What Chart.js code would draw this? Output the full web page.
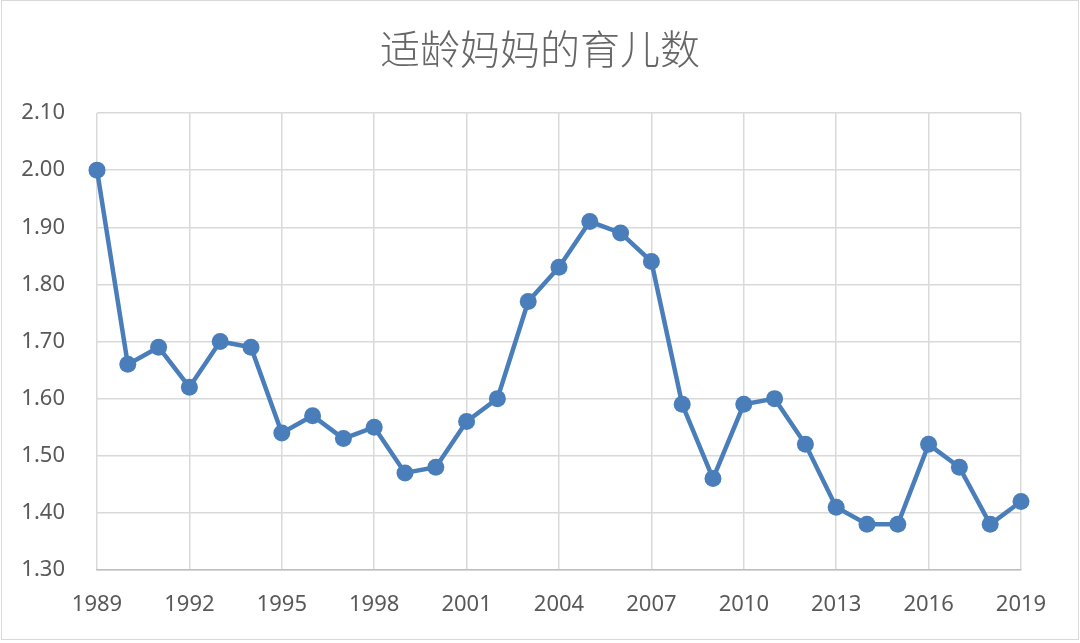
<!DOCTYPE html>
<html>
<head>
<meta charset="utf-8">
<script src="https://cdn.jsdelivr.net/npm/chart.js@4/dist/chart.umd.min.js"></script>
<style>
  html, body { margin: 0; padding: 0; background: #fff; }
  #wrap { position: relative; width: 1080px; height: 643px; }
  #wrap::after { content: ""; position: absolute; left: 1px; top: 0; right: 1px; bottom: 3px;
    border: 1px solid #d9d9d9; pointer-events: none; }
</style>
</head>
<body>
<div id="wrap"><canvas id="chart" width="1080" height="643"></canvas></div>
<script>
// data
const years = [1989, 1990, 1991, 1992, 1993, 1994, 1995, 1996, 1997, 1998,
  1999, 2000, 2001, 2002, 2003, 2004, 2005, 2006, 2007, 2008,
  2009, 2010, 2011, 2012, 2013, 2014, 2015, 2016, 2017, 2018, 2019];
const births = [2.00, 1.66, 1.69, 1.62, 1.70, 1.69, 1.54, 1.57, 1.53, 1.55,
  1.47, 1.48, 1.56, 1.60, 1.77, 1.83, 1.91, 1.89, 1.84, 1.59,
  1.46, 1.59, 1.60, 1.52, 1.41, 1.38, 1.38, 1.52, 1.48, 1.38, 1.42];
const yMin = 1.30, yMax = 2.10, yStep = 0.10;
const xStep = 3;

const gray = "#595959";
const blue = "#4a7ebb";
const tickFont = { family: "'Noto Sans', sans-serif", size: 22 };

const ctx = document.getElementById("chart").getContext("2d");
new Chart(ctx, {
  type: "line",
  data: {
    datasets: [{
      label: "适龄妈妈的育儿数",
      data: years.map((y, i) => ({ x: y, y: births[i] })),
      borderColor: blue,
      backgroundColor: blue,
      borderWidth: 4.5,
      pointRadius: 8.5,
      pointBackgroundColor: blue,
      pointBorderWidth: 0,
      tension: 0,
      fill: false,
      clip: false
    }]
  },
  options: {
    responsive: false,
    animation: false,
    layout: { padding: 0 },
    plugins: {
      legend: { display: false },
      tooltip: { enabled: false },
      title: {
        display: true,
        text: "适龄妈妈的育儿数",
        color: "#666",
        font: { family: "'Noto Sans CJK SC', sans-serif", size: 40, weight: 300, lineHeight: 1.2 },
        padding: { top: 25, bottom: 40 }
      }
    },
    scales: {
      x: {
        type: "linear",
        min: years[0],
        max: years[years.length - 1],
        afterFit(scale) { scale.height = 73; },
        ticks: {
          stepSize: xStep,
          padding: 22,
          color: gray,
          font: tickFont,
          callback: v => String(v),
          maxRotation: 0
        },
        grid: { color: "#d9d9d9", lineWidth: 1.5, drawTicks: false },
        border: { color: "#bfbfbf", width: 1.5 }
      },
      y: {
        min: yMin,
        max: yMax,
        afterFit(scale) { scale.width = 97; },
        ticks: {
          stepSize: yStep,
          padding: 32,
          color: gray,
          font: tickFont,
          callback: v => v.toFixed(2)
        },
        grid: { color: "#d9d9d9", lineWidth: 1.5, drawTicks: false },
        border: { display: false }
      },
      // empty right-hand strip so the plot ends at the same place as the original
      yRight: {
        position: "right",
        min: yMin,
        max: yMax,
        afterFit(scale) { scale.width = 59; },
        ticks: { display: false },
        grid: { display: false, drawTicks: false },
        border: { display: false }
      }
    }
  }
});
</script>
</body>
</html>
